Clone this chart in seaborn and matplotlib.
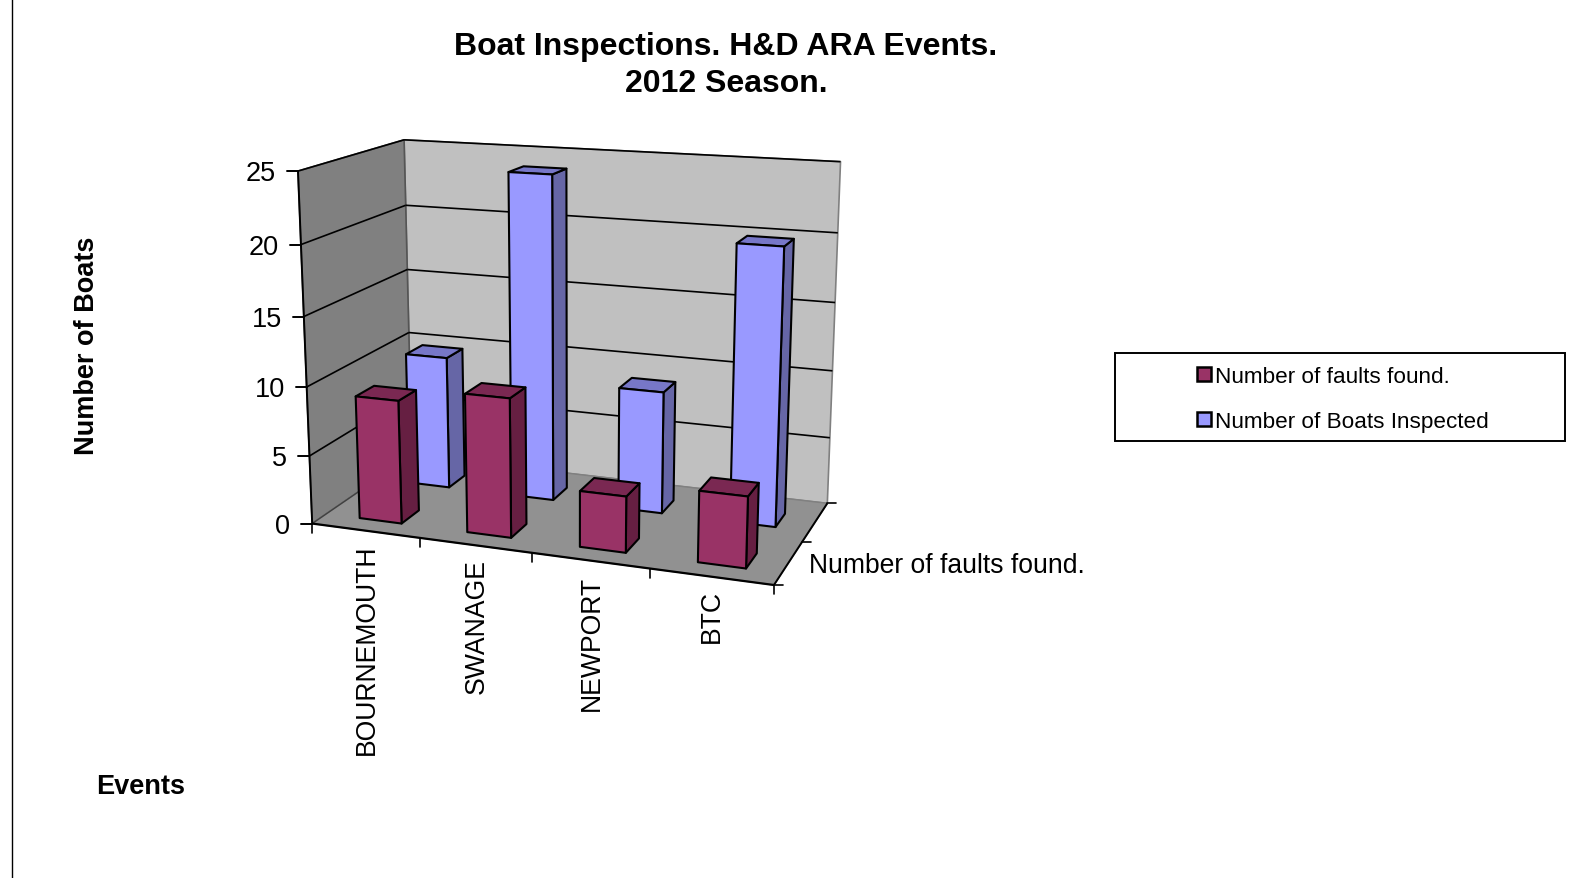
import numpy as np
import matplotlib
matplotlib.use("Agg")
import matplotlib.pyplot as plt
from matplotlib.patches import Rectangle, Patch
import seaborn as sns

# ---- data ----
events = ["BOURNEMOUTH", "SWANAGE", "NEWPORT", "BTC"]
faults = [9, 10, 4, 5]
boats = [10, 24, 9, 20]
series_names = ["Number of faults found.", "Number of Boats Inspected"]
y_ticks = [0, 5, 10, 15, 20, 25]
title_lines = ["Boat Inspections. H&D ARA Events.", "2012 Season."]

sns.set_theme(style="white")
plt.rcParams["font.family"] = ["Liberation Sans", "DejaVu Sans"]
W, H = 1570, 879
fig = plt.figure(figsize=(W / 100, H / 100), dpi=100)
ax = fig.add_axes([0, 0, 1, 1])
ax.set_xlim(0, W)
ax.set_ylim(H, 0)
ax.axis("off")

# ---- perspective camera: (category, depth, value) -> canvas ----
cam_refs = [
    (0, 0, 0, 312, 524), (0, 0, 5, 310, 457), (0, 0, 10, 307, 387), (0, 0, 15, 304, 317),
    (0, 0, 20, 301, 245), (0, 0, 25, 298, 172),
    (0, 1, 25, 404, 141), (0, 1, 20, 405, 207), (0, 1, 15, 407, 271), (0, 1, 10, 409, 333),
    (4, 1, 25, 841, 163), (4, 1, 20, 838, 234), (4, 1, 15, 835, 303), (4, 1, 10, 832, 372),
    (4, 1, 5, 830, 439), (4, 1, 0, 828, 503),
    (4, 0, 0, 773, 585), (1, 0, 0, 420, 540), (2, 0, 0, 532, 555), (3, 0, 0, 650, 571),
]
A, b = [], []
for cx, cz, cv, px, py in cam_refs:
    A.append([cx, cz, cv, 1, 0, 0, 0, 0, -px * cx, -px * cz, -px * cv]); b.append(px)
    A.append([0, 0, 0, 0, cx, cz, cv, 1, -py * cx, -py * cz, -py * cv]); b.append(py)
p = np.linalg.lstsq(np.array(A, float), np.array(b, float), rcond=None)[0]
P = np.append(p, 1).reshape(3, 4)


def proj(x, z, v):
    q = P @ np.array([x, z, v, 1.0])
    return q[0] / q[2], q[1] / q[2]


def face(pts, color, edge="black", lw=1.5, z=2):
    ax.fill(*zip(*[proj(*q) for q in pts]), facecolor=color, edgecolor=edge, linewidth=lw,
            joinstyle="round", zorder=z)


top = y_ticks[-1]
n = len(events)
# walls
face([(0, 1, 0), (n, 1, 0), (n, 1, top), (0, 1, top)], "#C0C0C0", "#808080", 1.2, 1)
face([(0, 0, 0), (0, 1, 0), (0, 1, top), (0, 0, top)], "#808080", "#555555", 1.2, 1)
face([(0, 0, 0), (n, 0, 0), (n, 1, 0), (0, 1, 0)], "#919191", "#808080", 1.0, 1)


def seg(a, b, color="black", lw=1.2, z=1.5):
    pa, pb = proj(*a), proj(*b)
    ax.plot([pa[0], pb[0]], [pa[1], pb[1]], color=color, lw=lw, zorder=z, solid_capstyle="butt")


# gridlines and axis lines
for t in y_ticks[1:]:
    seg((0, 0, t), (0, 1, t))
    seg((0, 1, t), (n, 1, t))
seg((0, 0, 0), (0, 1, 0), "#404040", 1.0)
seg((0, 0, 0), (0, 0, top), "black", 1.4)
seg((0, 0, 0), (n, 0, 0), "black", 1.6)
seg((n, 0, 0), (n, 1, 0), "black", 1.4)

# ticks and labels
for t in y_ticks:
    x0, y0 = proj(0, 0, t)
    ax.plot([x0 - 11, x0], [y0, y0], color="black", lw=1.4, zorder=3)
    ax.text(x0 - 22, y0 + 2, str(t), ha="right", va="center", fontsize=19.5, color="black")
for i in range(n + 1):
    x0, y0 = proj(i, 0, 0)
    ax.plot([x0, x0], [y0, y0 + 9], color="black", lw=1.2, zorder=3)
for zt in (0, 0.5, 1):
    x0, y0 = proj(n, zt, 0)
    ax.plot([x0, x0 + 9], [y0, y0], color="black", lw=1.2, zorder=3)

# bars: back series first
bar_w = 0.395
bar_d = 0.175
bar_x = 0.515
rows = [(boats, 0.63, "#9999FF", "#6666A6", "#7777C8"), (faults, 0.13, "#993366", "#661F42", "#7A2852")]
for values, z0, c_front, c_side, c_top in rows:
    for i, v in enumerate(values):
        x0, x1 = i + bar_x - bar_w / 2, i + bar_x + bar_w / 2
        z1 = z0 + bar_d
        face([(x1, z0, 0), (x1, z1, 0), (x1, z1, v), (x1, z0, v)], c_side, z=3)
        face([(x0, z0, v), (x1, z0, v), (x1, z1, v), (x0, z1, v)], c_top, z=3)
        face([(x0, z0, 0), (x1, z0, 0), (x1, z0, v), (x0, z0, v)], c_front, z=3)

# category labels
label_pos = [(367, 650), (477, 627), (592, 643), (712, 617)]
for name, (lx, ly) in zip(events, label_pos):
    ax.text(lx, ly, name, rotation=90, ha="center", va="center", fontsize=19.2, color="black")

# titles and axis titles
ax.text(726, 47, title_lines[0], ha="center", va="center", fontsize=23, fontweight="bold", color="black")
ax.text(726, 84, title_lines[1], ha="center", va="center", fontsize=23, fontweight="bold", color="black")
ax.text(87, 346, "Number of Boats", rotation=90, ha="center", va="center", fontsize=19.5, fontweight="bold", color="black")
ax.text(141, 787, "Events", ha="center", va="center", fontsize=19.5, fontweight="bold", color="black")
ax.text(809, 566, series_names[0], ha="left", va="center", fontsize=19.1, color="black")

# left rule
ax.plot([11.5, 11.5], [0, H], color="black", lw=1.0, zorder=1)

# legend
ax.add_patch(Rectangle((1115, 354), 450, 88, facecolor="white", edgecolor="black", lw=1.4, zorder=4))
handles = [Patch(facecolor="#993366", edgecolor="black", lw=1.8), Patch(facecolor="#9999FF", edgecolor="black", lw=1.8)]
leg = ax.legend(handles, series_names, loc="center left",
                bbox_to_anchor=(1177 / W, 1 - 400 / H), bbox_transform=fig.transFigure,
                frameon=False, fontsize=16.2, handlelength=0.6, handleheight=0.6, handletextpad=0.2,
                labelspacing=1.06, labelcolor="black")
leg.set_zorder(5)

fig.savefig("out.png", dpi=100, facecolor="white")
